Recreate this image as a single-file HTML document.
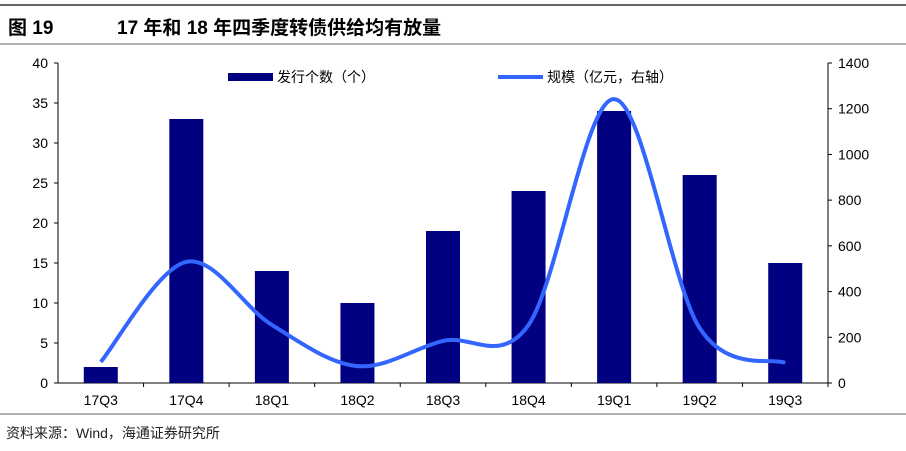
<!DOCTYPE html>
<html><head><meta charset="utf-8"><style>
body{margin:0;background:#fff;font-family:"Liberation Sans","Noto Sans CJK SC",sans-serif;}
</style></head><body>
<svg width="906" height="446" xmlns="http://www.w3.org/2000/svg">
<line x1="0" y1="5" x2="906" y2="5" stroke="#333" stroke-width="1.5"/>
<text x="8" y="34" font-size="19" font-weight="bold" font-family="Liberation Sans,Noto Sans CJK SC,sans-serif">图 19</text>
<text x="117" y="34" font-size="19" font-weight="bold" font-family="Liberation Sans,Noto Sans CJK SC,sans-serif">17 年和 18 年四季度转债供给均有放量</text>
<line x1="0" y1="44" x2="906" y2="44" stroke="#666" stroke-width="1"/>
<line x1="0" y1="414" x2="906" y2="414" stroke="#666" stroke-width="1"/>
<text x="6" y="438" font-size="14" fill="#222" font-family="Liberation Sans,Noto Sans CJK SC,sans-serif">资料来源：Wind，海通证券研究所</text>
<g id="plot"></g>
</svg>
<script>
const categories=["17Q3","17Q4","18Q1","18Q2","18Q3","18Q4","19Q1","19Q2","19Q3"];
const issueCount=[2,33,14,10,19,24,34,26,15];
const scaleValues=[92,530,254,74,184,254,1242,240,88];
const leftTicks=[0,5,10,15,20,25,30,35,40];
const rightTicks=[0,200,400,600,800,1000,1200,1400];
const NS="http://www.w3.org/2000/svg";
const g=document.getElementById("plot");
const X0=58,X1=828,Y0=383,Y1=63;
const bw=(X1-X0)/categories.length;
const xc=i=>X0+bw*(i+0.5);
const yl=v=>Y0-(v/40)*(Y0-Y1);
const yr=v=>Y0-(v/1400)*(Y0-Y1);
function mk(t,a,txt){const e=document.createElementNS(NS,t);for(const k in a)e.setAttribute(k,a[k]);if(txt!==undefined)e.textContent=txt;g.appendChild(e);return e;}
const F="Liberation Sans,Noto Sans CJK SC,sans-serif";
let e;
e=mk("line",{x1:X0,y1:Y1,x2:X0,y2:Y0,stroke:"#000"});


e=mk("line",{x1:X1,y1:Y1,x2:X1,y2:Y0,stroke:"#000"});


e=mk("line",{x1:X0,y1:Y0,x2:X1,y2:Y0,stroke:"#000"});


leftTicks.forEach(v=>{
 mk("line",{x1:X0-4,y1:yl(v),x2:X0,y2:yl(v),stroke:"#000"});
 e=mk("text",{x:X0-10,y:yl(v)+5,"font-size":14,"text-anchor":"end","font-family":F},v);
 
 
});
rightTicks.forEach(v=>{
 mk("line",{x1:X1,y1:yr(v),x2:X1+4,y2:yr(v),stroke:"#000"});
 e=mk("text",{x:X1+10,y:yr(v)+5,"font-size":14,"font-family":F},v);
 
 
});
categories.forEach((c,i)=>{
 mk("line",{x1:X0+bw*(i+1),y1:Y0,x2:X0+bw*(i+1),y2:Y0+4,stroke:"#000"});
 e=mk("text",{x:xc(i),y:Y0+22,"font-size":14,"text-anchor":"middle","font-family":F},c);
 
 
 e=mk("rect",{x:xc(i)-17,y:yl(issueCount[i]),width:34,height:Y0-yl(issueCount[i]),fill:"#000080"});
 
 
});
const pts=scaleValues.map((v,i)=>[xc(i),yr(v)]);
let d="M"+pts[0][0]+","+pts[0][1];
for(let i=0;i<pts.length-1;i++){
 const p0=pts[Math.max(0,i-1)],p1=pts[i],p2=pts[i+1],p3=pts[Math.min(pts.length-1,i+2)];
 const t=1/6;
 d+=` C${p1[0]+(p2[0]-p0[0])*t},${p1[1]+(p2[1]-p0[1])*t} ${p2[0]-(p3[0]-p1[0])*t},${p2[1]-(p3[1]-p1[1])*t} ${p2[0]},${p2[1]}`;
}
e=mk("path",{d:d,fill:"none",stroke:"#3366ff","stroke-width":4});


e=mk("rect",{x:228,y:73,width:45,height:8,fill:"#000080"});


e=mk("text",{x:277,y:82,"font-size":14,"font-family":F},"发行个数（个）");


e=mk("line",{x1:498,y1:77,x2:543,y2:77,stroke:"#3366ff","stroke-width":4});


e=mk("text",{x:547,y:82,"font-size":14,"font-family":F},"规模（亿元，右轴）");


</script>
</body></html>
